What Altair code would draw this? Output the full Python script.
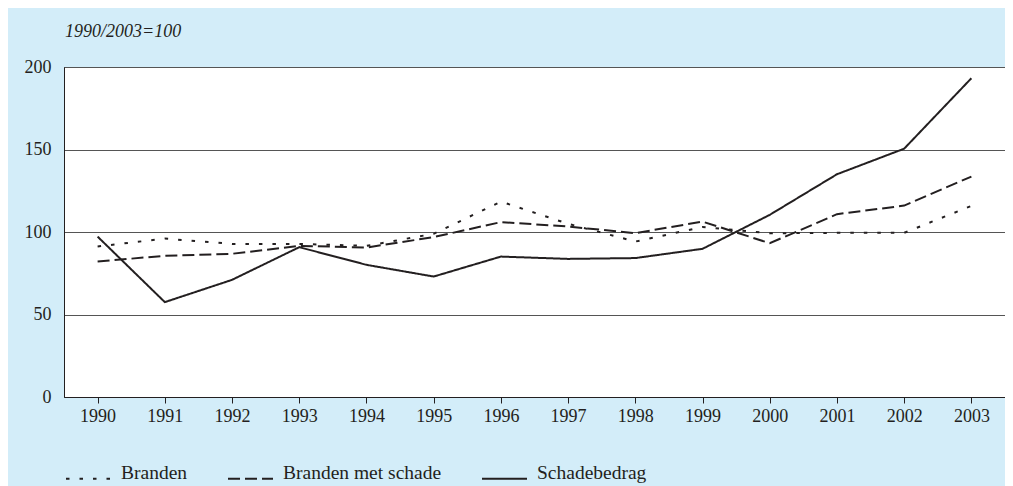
import altair as alt
import pandas as pd

years = [str(y) for y in range(1990, 2004)]
branden = [91.2, 96.0, 92.8, 92.8, 91.6, 98.9, 118.4, 105.0, 94.2, 103.0, 99.2, 99.5, 99.5, 115.8]
branden_schade = [82.1, 85.6, 86.8, 91.6, 90.6, 96.9, 106.0, 103.3, 99.3, 106.3, 93.2, 110.8, 116.0, 133.6]
schadebedrag = [97.2, 57.5, 71.0, 90.8, 80.1, 73.0, 85.1, 83.7, 84.2, 89.8, 110.4, 135.0, 150.5, 193.2]
series_names = ["Branden", "Branden met schade", "Schadebedrag"]
y_ticks = [0, 50, 100, 150, 200]
subtitle = "1990/2003=100"

rows = []
for name, vals in zip(series_names, [branden, branden_schade, schadebedrag]):
    for yr, v in zip(years, vals):
        rows.append({"jaar": yr, "index": v, "reeks": name})
df = pd.DataFrame(rows)

FONT = "Liberation Serif"

lines = alt.Chart(df).mark_line(strokeWidth=2, color="#231f20").encode(
    x=alt.X("jaar:N", sort=years, title=None,
            scale=alt.Scale(type="point", padding=0.5),
            axis=alt.Axis(labelAngle=0, labelFont=FONT, labelFontSize=18, labelColor="#231f20",
                          tickSize=6, tickColor="#231f20", tickWidth=1, domainColor="#231f20",
                          labelPadding=4, grid=False)),
    y=alt.Y("index:Q", title=None,
            scale=alt.Scale(domain=[0, 200], nice=False),
            axis=alt.Axis(values=y_ticks, labelFont=FONT, labelFontSize=18, labelColor="#231f20",
                          ticks=False, labelPadding=13, domainColor="#231f20",
                          grid=True, gridColor="#555555", gridWidth=1)),
    strokeDash=alt.StrokeDash("reeks:N", sort=series_names,
                              scale=alt.Scale(domain=series_names, range=[[3.5, 10], [12, 5], [1, 0]]),
                              legend=alt.Legend(title=None, orient="none", direction="horizontal",
                                                legendX=1, legendY=388,
                                                symbolType="stroke", symbolSize=2025,
                                                symbolStrokeWidth=2, symbolStrokeColor="#231f20",
                                                labelFont=FONT, labelFontSize=19.5, labelColor="#231f20",
                                                labelBaseline="alphabetic", labelOffset=9,
                                                columnPadding=36)),
    detail="reeks:N",
)

sub = alt.Chart(pd.DataFrame({"t": [subtitle]})).mark_text(
    align="left", baseline="alphabetic", font=FONT, fontSize=18, fontStyle="italic", color="#231f20"
).encode(text="t:N", x=alt.value(1), y=alt.value(-30))

chart = alt.layer(lines, sub).properties(
    width=941, height=330,
    autosize=alt.AutoSizeParams(type="none"),
    padding={"left": 56, "top": 59, "right": 0, "bottom": 89},
    background="#d3edf9",
).configure_view(fill="white", stroke="#333333", strokeWidth=1)

chart.save("out.html", embed_options={"renderer": "svg", "actions": False})
